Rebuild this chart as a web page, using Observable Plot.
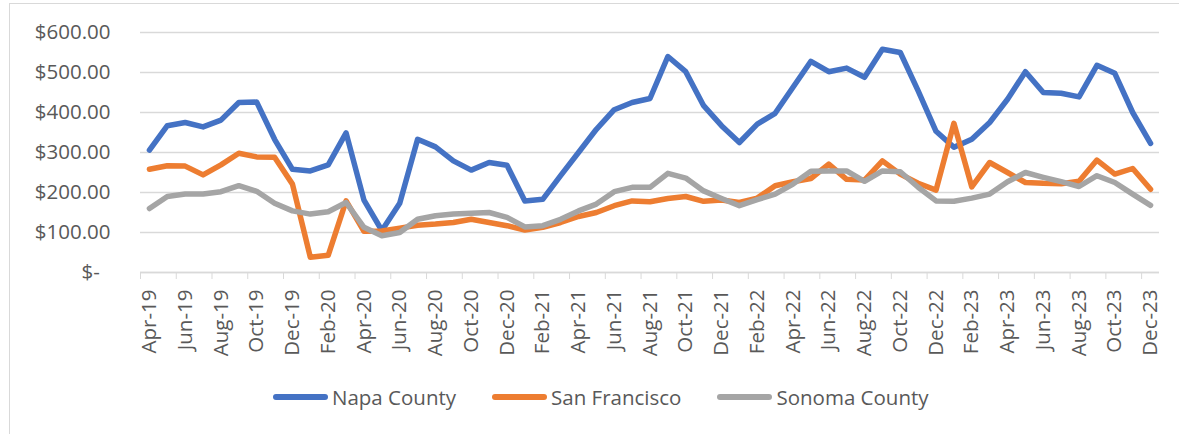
<!DOCTYPE html>
<html><head><meta charset="utf-8">
<script src="https://cdn.jsdelivr.net/npm/d3@7"></script>
<script src="https://cdn.jsdelivr.net/npm/@observablehq/plot@0.6"></script>
<style>
body{margin:0;background:#fff;font-family:"Open Sans",sans-serif;width:1179px;height:434px;overflow:hidden;position:relative;}
#frame{position:absolute;left:9px;top:3px;width:1200px;height:500px;border:1px solid #d9d9d9;}
#chart{position:absolute;left:0;top:0;}
#legend{position:absolute;left:273px;top:382px;display:flex;align-items:center;font-size:20.5px;color:#595959;line-height:30px;}
.item{display:flex;align-items:center;margin-right:36px}
.swatch{width:55px;height:6px;border-radius:3px;margin-right:4px}
</style></head><body>
<div id="frame"></div>
<div id="chart"></div>
<div id="legend"></div>
<script>
const months = ["Apr-19","May-19","Jun-19","Jul-19","Aug-19","Sep-19","Oct-19","Nov-19","Dec-19",
  "Jan-20","Feb-20","Mar-20","Apr-20","May-20","Jun-20","Jul-20","Aug-20","Sep-20","Oct-20","Nov-20","Dec-20",
  "Jan-21","Feb-21","Mar-21","Apr-21","May-21","Jun-21","Jul-21","Aug-21","Sep-21","Oct-21","Nov-21","Dec-21",
  "Jan-22","Feb-22","Mar-22","Apr-22","May-22","Jun-22","Jul-22","Aug-22","Sep-22","Oct-22","Nov-22","Dec-22",
  "Jan-23","Feb-23","Mar-23","Apr-23","May-23","Jun-23","Jul-23","Aug-23","Sep-23","Oct-23","Nov-23","Dec-23"];
const napa = [306,367,375,364,381,425,426,333,258,254,269,349,181,105,173,333,314,279,256,275,268,179,183,242,300,358,407,425,435,540,502,417,367,325,371,398,463,528,502,511,488,558,550,454,353,313,333,375,433,502,450,448,439,518,498,400,323];
const sanFrancisco = [258,267,266,244,269,298,289,288,221,38,43,179,103,104,111,118,121,125,133,125,117,106,113,125,140,150,167,179,177,185,190,178,181,175,186,217,227,235,271,233,231,279,246,223,206,373,214,275,250,225,223,222,228,281,246,260,208];
const sonoma = [160,190,196,196,202,217,203,173,154,146,152,175,113,92,100,133,142,146,148,150,138,114,117,133,154,171,202,213,213,248,236,204,185,167,182,196,221,253,254,254,228,254,252,213,179,178,186,196,227,250,238,227,215,242,225,196,168];
const seriesNames = ["Napa County","San Francisco","Sonoma County"];
const colors = ["#4472C4","#ED7D31","#A5A5A5"];
const yTicks = [0,100,200,300,400,500,600];

const rows = [];
[napa, sanFrancisco, sonoma].forEach((arr, s) => arr.forEach((v, i) => rows.push({i, v, series: seriesNames[s]})));
const labelIdx = months.map((m, i) => i).filter(i => i % 2 === 0);
const boundaries = labelIdx.map(i => i - 0.5);

const chart = Plot.plot({
  width: 1179, height: 372,
  marginLeft: 140, marginRight: 20, marginTop: 32, marginBottom: 100,
  style: {fontFamily: "Open Sans", fontSize: "20.5px", color: "#595959", background: "transparent"},
  x: {type: "linear", domain: [-0.5, months.length - 0.5]},
  y: {domain: [0, 600]},
  color: {domain: seriesNames, range: colors},
  marks: [
    Plot.gridY(yTicks, {stroke: "#d9d9d9", strokeOpacity: 1, strokeWidth: 1.3}),
    Plot.ruleY([0], {stroke: "#d9d9d9", strokeWidth: 1.3}),
    Plot.axisY({ticks: yTicks, tickSize: 0, tickPadding: 30, label: null, fill: "#595959",
      tickFormat: d => d === 0 ? "$-\u00a0\u00a0" : "$" + d3.format(",.2f")(d)}),
    Plot.axisX({ticks: boundaries, tickSize: 7, stroke: "#d9d9d9", strokeOpacity: 1, tickFormat: () => "", label: null}),
    Plot.axisX({ticks: labelIdx, tickSize: 0, tickPadding: 17, tickRotate: -90, label: null, fill: "#595959",
      tickFormat: i => months[i]}),
    Plot.line(rows, {x: "i", y: "v", z: "series", stroke: "series", strokeWidth: 5.5,
      strokeLinejoin: "round", strokeLinecap: "round"})
  ]
});
document.getElementById("chart").appendChild(chart);

const legend = document.getElementById("legend");
seriesNames.forEach((name, k) => {
  const item = document.createElement("div");
  item.className = "item";
  const sw = document.createElement("div");
  sw.className = "swatch";
  sw.style.background = colors[k];
  const t = document.createElement("span");
  t.textContent = name;
  item.appendChild(sw); item.appendChild(t);
  legend.appendChild(item);
});
</script>
</body></html>
